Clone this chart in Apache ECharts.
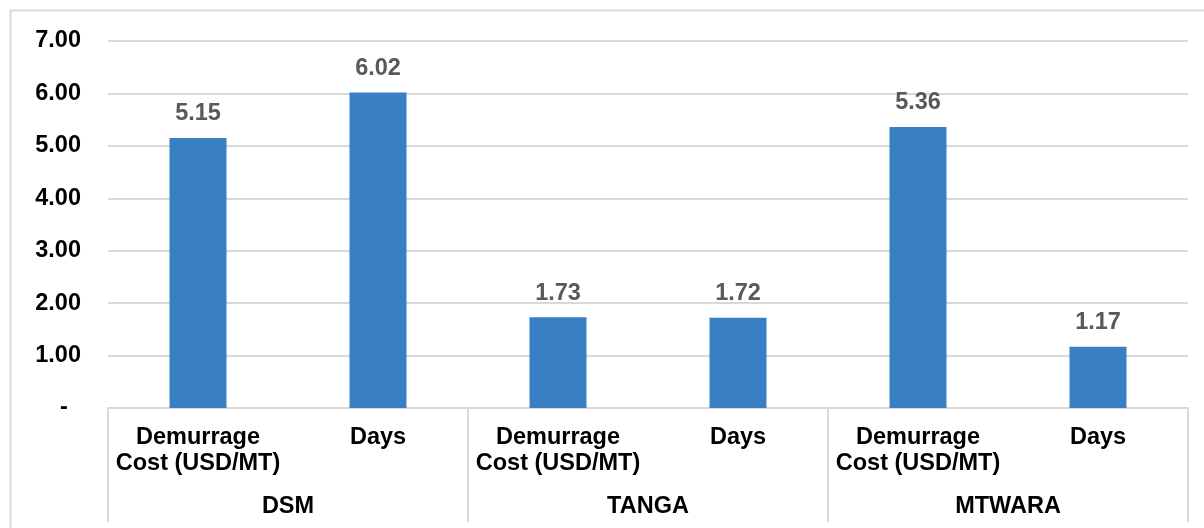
<!DOCTYPE html>
<html>
<head>
    <meta charset="utf-8">
    <title>Demurrage</title>
    <script src="https://cdn.jsdelivr.net/npm/echarts@6/dist/echarts.min.js"></script>
</head>
<body style="margin:0;background:#fff;">
    <div id="main" style="width:1204px;height:528px;"></div>
    <script type="text/javascript">
        // data
        var categories = ['Demurrage\nCost (USD/MT)', 'Days', 'Demurrage\nCost (USD/MT)', 'Days', 'Demurrage\nCost (USD/MT)', 'Days'];
        var groups = ['DSM', 'TANGA', 'MTWARA'];
        var values = [5.15, 6.02, 1.73, 1.72, 5.36, 1.17];
        var yTicks = [0, 1, 2, 3, 4, 5, 6, 7];

        var font = 'Liberation Sans, Arial, sans-serif';
        var chart = echarts.init(document.getElementById('main'));
        var option = {
            backgroundColor: '#fff',
            animation: false,
            graphic: [{
                type: 'rect',
                shape: { x: 10.5, y: 10.5, width: 1210, height: 540 },
                style: { fill: 'none', stroke: '#d9d9d9', lineWidth: 2 },
                silent: true
            }],
            grid: { left: 108, right: 16, top: 41, bottom: 120 },
            xAxis: [{
                type: 'category',
                data: categories,
                position: 'bottom',
                axisLine: { show: true, lineStyle: { color: '#d9d9d9', width: 2 } },
                axisTick: { show: false },
                axisLabel: {
                    interval: 0,
                    margin: 17,
                    lineHeight: 26,
                    fontSize: 23.5,
                    fontWeight: 'bold',
                    fontFamily: font,
                    color: '#000'
                }
            }, {
                type: 'category',
                data: groups,
                position: 'bottom',
                axisLine: { show: false },
                axisTick: { show: true, length: 114, lineStyle: { color: '#d9d9d9', width: 2 } },
                axisLabel: {
                    interval: 0,
                    margin: 86,
                    lineHeight: 26,
                    fontSize: 23.5,
                    fontWeight: 'bold',
                    fontFamily: font,
                    color: '#000'
                }
            }],
            yAxis: {
                type: 'value',
                min: yTicks[0],
                max: yTicks[yTicks.length - 1],
                interval: 1,
                axisLine: { show: false },
                axisTick: { show: false },
                splitLine: { lineStyle: { color: '#d9d9d9', width: 2 } },
                axisLabel: {
                    margin: 27,
                    fontSize: 23.5,
                    fontWeight: 'bold',
                    fontFamily: font,
                    color: '#000',
                    formatter: function (v) {
                        return v === 0 ? '-  ' : v.toFixed(2);
                    }
                }
            },
            series: [{
                type: 'bar',
                xAxisIndex: 0,
                data: values,
                barWidth: 57,
                itemStyle: { color: '#387fc4' },
                label: {
                    show: true,
                    position: 'top',
                    distance: 12,
                    fontSize: 23.5,
                    fontWeight: 'bold',
                    fontFamily: font,
                    color: '#595959',
                    formatter: function (p) { return p.value.toFixed(2); }
                }
            }]
        };
        chart.setOption(option);
    </script>
</body>
</html>
